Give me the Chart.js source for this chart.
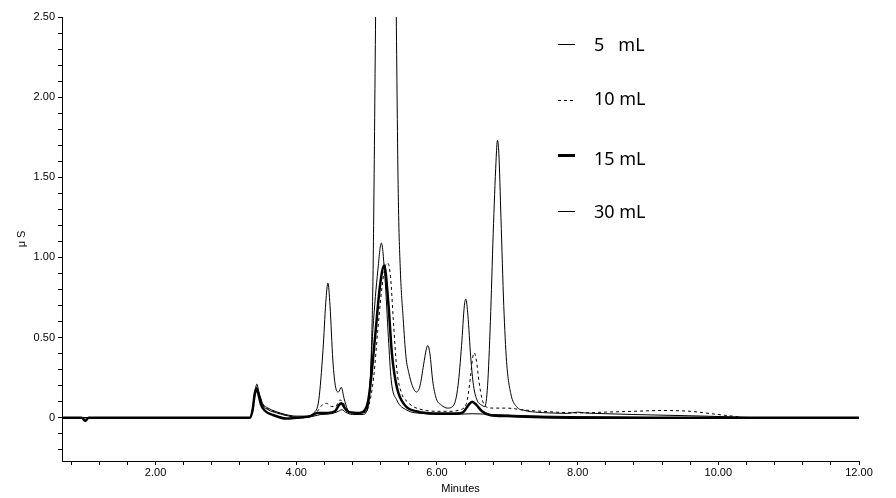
<!DOCTYPE html>
<html>
<head>
<meta charset="utf-8">
<script src="https://cdn.jsdelivr.net/npm/chart.js@4.4.1/dist/chart.umd.min.js"></script>
<style>
  body { margin: 0; background: #fff; }
  #wrap { position: relative; width: 896px; height: 498px; }
  .key { position: absolute; left: 558px; width: 17px; height: 1px; background: #000; }
  .key.dash { background: repeating-linear-gradient(90deg, #000 0 3px, transparent 3px 6px); }
  .key.bold { height: 3px; }
  .name { position: absolute; left: 594px; font: 18px "Noto Sans", sans-serif; line-height: 20px; white-space: pre; color: #000; }
</style>
</head>
<body>
<div id="wrap">
  <canvas id="myChart"></canvas>
  <div id="legendBox"></div>
</div>
<script>
/* chromatogram values (minutes / uS) */
const time30 = [0.67, 3.33, 3.38, 3.41, 3.44, 3.47, 3.52, 3.6, 3.7, 3.85, 4.0, 4.15, 4.25, 4.32, 4.38, 4.42, 4.45, 4.48, 4.52, 4.56, 4.6, 4.64, 4.68, 4.73, 4.8, 4.9, 5.0, 5.04, 5.07, 5.09, 5.1, 5.13, 5.2, 5.27, 5.35, 5.42, 5.45, 5.48, 5.52, 5.56, 5.6, 5.65, 5.71, 5.76, 5.81, 5.85, 5.87, 5.9, 5.94, 5.99, 6.06, 6.15, 6.24, 6.3, 6.35, 6.39, 6.41, 6.44, 6.48, 6.52, 6.57, 6.63, 6.68, 6.72, 6.76, 6.8, 6.84, 6.86, 6.88, 6.91, 6.95, 6.99, 7.05, 7.13, 7.25, 7.4, 7.6, 7.85, 8.0, 8.1, 8.4, 8.8, 9.3, 9.8, 10.2, 10.6, 12.0];
const val30 = [0, 0, 0.05, 0.15, 0.21, 0.16, 0.09, 0.06, 0.04, 0.02, 0.01, 0.01, 0.03, 0.11, 0.42, 0.72, 0.84, 0.70, 0.36, 0.19, 0.16, 0.19, 0.12, 0.05, 0.03, 0.03, 0.04, 0.15, 0.45, 0.85, 1.2, 2.6, 6, 9, 6, 2.6, 1.4, 0.92, 0.62, 0.38, 0.28, 0.2, 0.16, 0.2, 0.33, 0.43, 0.45, 0.4, 0.23, 0.12, 0.08, 0.06, 0.08, 0.2, 0.45, 0.70, 0.74, 0.64, 0.38, 0.20, 0.11, 0.08, 0.07, 0.2, 0.6, 1.15, 1.6, 1.73, 1.65, 1.25, 0.7, 0.35, 0.15, 0.07, 0.045, 0.035, 0.03, 0.027, 0.035, 0.03, 0.025, 0.02, 0.015, 0.01, 0.005, 0, 0];

const time10 = [0.67, 3.34, 3.39, 3.42, 3.45, 3.48, 3.53, 3.62, 3.75, 3.9, 4.1, 4.22, 4.3, 4.37, 4.43, 4.5, 4.56, 4.62, 4.66, 4.72, 4.8, 4.95, 5.02, 5.1, 5.16, 5.22, 5.27, 5.3, 5.34, 5.38, 5.43, 5.5, 5.58, 5.66, 5.85, 6.0, 6.2, 6.33, 6.42, 6.47, 6.51, 6.53, 6.56, 6.6, 6.64, 6.69, 6.8, 7.0, 7.2, 7.5, 8.0, 8.4, 8.8, 9.2, 9.6, 9.9, 10.2, 10.4, 12.0];
const val10 = [0, 0, 0.06, 0.15, 0.18, 0.14, 0.08, 0.05, 0.03, 0.01, 0, 0.01, 0.04, 0.08, 0.09, 0.07, 0.07, 0.11, 0.1, 0.05, 0.03, 0.03, 0.06, 0.25, 0.55, 0.82, 0.95, 0.965, 0.88, 0.61, 0.30, 0.15, 0.1, 0.07, 0.045, 0.04, 0.04, 0.05, 0.09, 0.23, 0.38, 0.405, 0.36, 0.22, 0.12, 0.07, 0.06, 0.06, 0.05, 0.04, 0.03, 0.035, 0.04, 0.045, 0.04, 0.025, 0.01, 0, 0];

const time15 = [0.67, 0.95, 1.0, 1.05, 3.34, 3.38, 3.41, 3.43, 3.46, 3.5, 3.55, 3.67, 3.86, 4.0, 4.2, 4.3, 4.45, 4.55, 4.61, 4.64, 4.69, 4.75, 4.9, 4.98, 5.02, 5.05, 5.12, 5.19, 5.25, 5.31, 5.36, 5.43, 5.54, 5.71, 5.95, 6.28, 6.37, 6.45, 6.5, 6.56, 6.64, 6.75, 7.0, 7.5, 8.0, 12.0];
const val15 = [0, 0, -0.02, 0, 0, 0.05, 0.15, 0.18, 0.15, 0.08, 0.045, 0.017, -0.005, 0, 0.01, 0.03, 0.03, 0.04, 0.08, 0.09, 0.06, 0.035, 0.03, 0.05, 0.1, 0.19, 0.5, 0.82, 0.95, 0.71, 0.40, 0.19, 0.08, 0.04, 0.027, 0.027, 0.034, 0.08, 0.1, 0.08, 0.04, 0.017, 0.01, 0.003, 0, 0];

const time5 = [0.67, 3.34, 3.38, 3.41, 3.44, 3.47, 3.52, 3.6, 3.72, 3.9, 4.1, 4.25, 4.35, 4.5, 4.6, 4.65, 4.7, 4.8, 4.95, 5.0, 5.04, 5.09, 5.16, 5.21, 5.26, 5.31, 5.35, 5.43, 5.57, 5.78, 6.2, 6.5, 6.8, 7.5, 8.5, 9.5, 12.0];
const val5 = [0, 0, 0.06, 0.16, 0.19, 0.15, 0.08, 0.05, 0.03, 0.01, 0, 0.01, 0.02, 0.025, 0.04, 0.05, 0.035, 0.02, 0.02, 0.04, 0.15, 0.55, 0.92, 1.09, 0.88, 0.5, 0.235, 0.11, 0.048, 0.027, 0.02, 0.025, 0.02, 0.01, 0.005, 0, 0];

/* axis ticks and labels */
const xTicks = [0.8, 1.2, 1.6, 2.0, 2.4, 2.8, 3.2, 3.6, 4.0, 4.4, 4.8, 5.2, 5.6, 6.0, 6.4, 6.8, 7.2, 7.6, 8.0, 8.4, 8.8, 9.2, 9.6, 10.0, 10.4, 10.8, 11.2, 11.6, 12.0];
const xLabelValues = [2, 4, 6, 8, 10, 12];
const xLabelTexts = ['2.00', '4.00', '6.00', '8.00', '10.00', '12.00'];
const yTicks = [-0.2, -0.1, 0, 0.1, 0.2, 0.3, 0.4, 0.5, 0.6, 0.7, 0.8, 0.9, 1.0, 1.1, 1.2, 1.3, 1.4, 1.5, 1.6, 1.7, 1.8, 1.9, 2.0, 2.1, 2.2, 2.3, 2.4, 2.5];
const yLabelValues = [0, 0.5, 1, 1.5, 2, 2.5];
const yLabelTexts = ['0', '0.50', '1.00', '1.50', '2.00', '2.50'];

const legendNames = ['5   mL', '10 mL', '15 mL', '30 mL'];

/* finds label text for a tick value, empty for minor ticks */
function labelFor(value, values, texts) {
      for (let i = 0; i < values.length; i++) {
            if (Math.abs(values[i] - value) < 1e-6) return texts[i];
      }
      return '';
}

function toPoints(times, values) {
      return times.map((t, i) => ({ x: t, y: values[i] }));
}

function buildLegend() {
      const box = document.getElementById('legendBox');
      const keyClass = ['key', 'key dash', 'key bold', 'key'];
      const keyTop = [44, 100, 154, 211];
      const nameTop = [34, 88, 148, 201];
      legendNames.forEach((name, i) => {
            const key = document.createElement('div');
            key.className = keyClass[i];
            key.style.top = keyTop[i] + 'px';
            box.appendChild(key);
            const txt = document.createElement('div');
            txt.className = 'name';
            txt.style.top = nameTop[i] + 'px';
            txt.textContent = name;
            box.appendChild(txt);
      });
}

function createChart() {
      const canvaNode = document.getElementById('myChart');
      const tickFont = { family: 'Liberation Sans', size: 11 };
      const line = { borderColor: '#000', pointRadius: 0, fill: false, cubicInterpolationMode: 'monotone' };

      new Chart(canvaNode, {
            type: 'line',
            data: {
                  datasets: [
                        Object.assign({ label: '5 mL', data: toPoints(time5, val5), borderWidth: 1 }, line),
                        Object.assign({ label: '10 mL', data: toPoints(time10, val10), borderWidth: 1, borderDash: [3, 3] }, line),
                        Object.assign({ label: '30 mL', data: toPoints(time30, val30), borderWidth: 1 }, line),
                        Object.assign({ label: '15 mL', data: toPoints(time15, val15), borderWidth: 2.5 }, line)
                  ]
            },
            options: {
                  responsive: true,
                  maintainAspectRatio: false,
                  animation: false,
                  events: [],
                  layout: { padding: { left: 0, right: 37, top: 17, bottom: 0 } },
                  plugins: { legend: { display: false }, tooltip: { enabled: false } },
                  scales: {
                        x: {
                              type: 'linear', min: 0.67, max: 12,
                              afterBuildTicks: (scale) => { scale.ticks = xTicks.map(v => ({ value: v })); },
                              afterFit: (scale) => { scale.height = 37; },
                              ticks: {
                                    autoSkip: false, maxRotation: 0, padding: 1, color: '#000', font: tickFont,
                                    callback: (v) => labelFor(v, xLabelValues, xLabelTexts)
                              },
                              grid: { drawOnChartArea: false, tickLength: 4, tickColor: '#000' },
                              border: { color: '#000' },
                              title: { display: true, text: 'Minutes', color: '#000', font: tickFont, padding: { top: 0, bottom: 2 } }
                        },
                        y: {
                              type: 'linear', min: -0.27, max: 2.5,
                              afterBuildTicks: (scale) => { scale.ticks = yTicks.map(v => ({ value: v })); },
                              afterFit: (scale) => { scale.width = 62; },
                              ticks: {
                                    autoSkip: false, padding: 3, color: '#000', font: tickFont,
                                    callback: (v) => labelFor(v, yLabelValues, yLabelTexts)
                              },
                              grid: { drawOnChartArea: false, tickLength: 4, tickColor: '#000' },
                              border: { color: '#000' },
                              title: { display: true, text: 'μ S', color: '#000', font: tickFont, padding: { top: 15, bottom: 0 } }
                        }
                  }
            }
      });
}

createChart();
buildLegend();
</script>
</body>
</html>
